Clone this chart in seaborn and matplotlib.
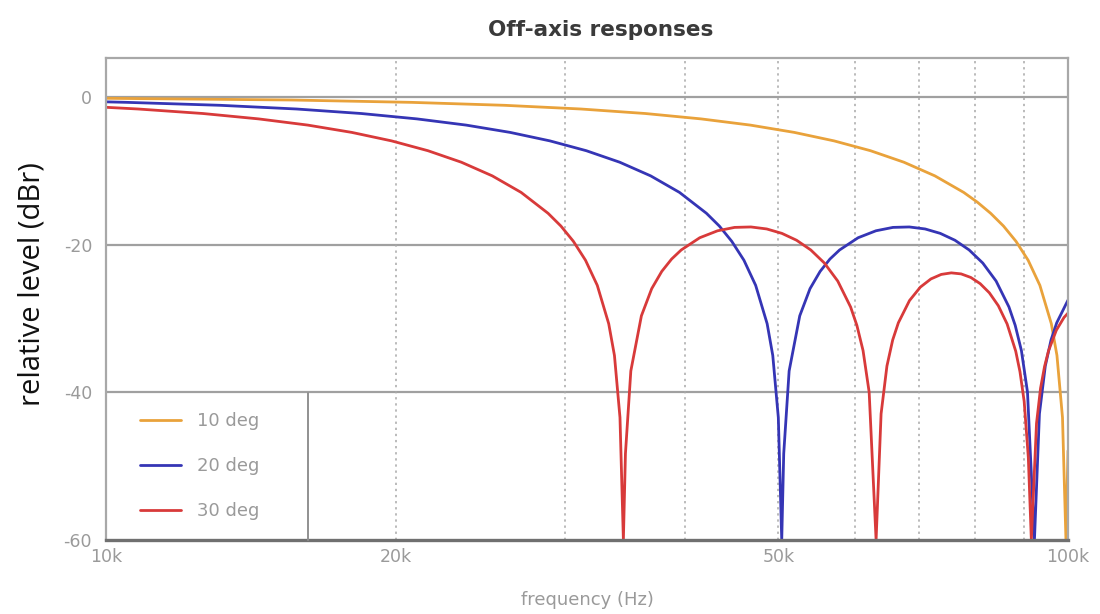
import matplotlib
matplotlib.use("Agg")
import matplotlib.pyplot as plt
import matplotlib.ticker as mticker
import seaborn as sns
import pandas as pd

# ---- data (frequency in kHz, level in dBr) ----
labels = ["10 deg", "20 deg", "30 deg"]
colors = ["#E9A23B", "#3535B5", "#D83A3A"]

freq_10 = [10.00, 15.58, 20.78, 25.97, 31.16, 36.36, 41.55, 46.75, 51.94, 57.13, 62.33,
           67.52, 72.72, 77.91, 80.51, 83.10, 85.70, 88.30, 90.90, 93.49, 96.09, 97.39,
           98.69, 99.51, 100.0]
db_10 = [-0.16, -0.39, -0.71, -1.11, -1.61, -2.22, -2.95, -3.79, -4.78, -5.93, -7.26,
         -8.82, -10.67, -12.91, -14.24, -15.74, -17.47, -19.54, -22.10, -25.50, -30.7, -35.0,
         -43.4, -60.0, -47.9]

freq_20 = [10.00, 10.52, 13.15, 15.78, 18.42, 21.05, 23.68, 26.31, 28.94, 31.57, 34.20,
           36.83, 39.46, 42.09, 43.41, 44.72, 46.04, 47.35, 48.67, 49.33, 49.99, 50.40,
           50.64, 51.30, 52.62, 53.93, 55.25, 56.56, 57.88, 60.51, 63.14, 65.77, 68.40,
           71.03, 73.66, 76.29, 78.92, 81.55, 84.19, 86.82, 88.13, 89.45, 90.76, 92.28,
           93.39, 94.71, 96.02, 97.34, 100.0]
db_20 = [-0.64, -0.71, -1.11, -1.61, -2.22, -2.95, -3.79, -4.78, -5.93, -7.26, -8.82,
         -10.67, -12.91, -15.74, -17.47, -19.54, -22.10, -25.50, -30.7, -35.0, -43.4, -60.0,
         -48.3, -37.1, -29.63, -25.95, -23.61, -21.94, -20.71, -19.05, -18.11, -17.65, -17.59,
         -17.86, -18.46, -19.39, -20.70, -22.48, -24.92, -28.43, -30.92, -34.34, -39.97, -60.0,
         -42.9, -36.43, -32.9, -30.57, -27.5]

freq_30 = [10.00, 10.80, 12.61, 14.41, 16.21, 18.01, 19.81, 21.61, 23.41, 25.21, 27.01,
           28.81, 29.71, 30.61, 31.51, 32.41, 33.31, 33.77, 34.22, 34.50, 34.67, 35.12,
           36.02, 36.92, 37.82, 38.72, 39.62, 41.42, 43.22, 45.02, 46.82, 48.62, 50.42,
           52.22, 54.02, 55.82, 57.63, 59.43, 60.33, 61.23, 62.13, 63.17, 63.93, 64.83,
           65.73, 66.63, 68.43, 70.23, 72.03, 73.83, 75.63, 77.43, 79.24, 81.04, 82.84,
           84.64, 86.44, 88.24, 89.14, 90.04, 90.94, 91.60, 92.74, 93.64, 94.54, 95.44,
           97.24, 99.04, 100.0]
db_30 = [-1.38, -1.61, -2.22, -2.95, -3.79, -4.78, -5.93, -7.26, -8.82, -10.67, -12.91,
         -15.74, -17.47, -19.54, -22.10, -25.50, -30.7, -35.0, -43.4, -60.0, -48.3, -37.1,
         -29.63, -25.95, -23.61, -21.94, -20.71, -19.05, -18.11, -17.65, -17.59, -17.86, -18.46,
         -19.39, -20.70, -22.48, -24.92, -28.43, -30.92, -34.34, -39.97, -60.0, -42.9, -36.43,
         -32.9, -30.57, -27.56, -25.74, -24.63, -24.02, -23.81, -23.95, -24.43, -25.27, -26.51,
         -28.26, -30.73, -34.42, -37.2, -41.21, -48.8, -60.0, -44.2, -39.44, -36.5, -34.38,
         -31.59, -29.86, -29.26]

x_major = [10, 20, 50, 100]
x_major_labels = ["10k", "20k", "50k", "100k"]
x_grid = [20, 30, 40, 50, 60, 70, 80, 90]
y_ticks = [0, -20, -40, -60]

frames = []
for lab, f, d in zip(labels, [freq_10, freq_20, freq_30], [db_10, db_20, db_30]):
    frames.append(pd.DataFrame({"freq": [v * 1000 for v in f], "db": d, "series": lab}))
df = pd.concat(frames, ignore_index=True)

sns.set_theme(style="white")
plt.rcParams["font.family"] = ["DejaVu Sans"]

fig = plt.figure(figsize=(11, 6.14), dpi=100)
ax = fig.add_axes([106 / 1100, 1 - 540 / 614, 962 / 1100, 482 / 614])

sns.lineplot(data=df, x="freq", y="db", hue="series", hue_order=labels,
             palette=colors, estimator=None, sort=False, linewidth=2.0, ax=ax,
             legend=True)

ax.set_xscale("log")
ax.set_xlim(10000, 100000)
ax.set_ylim(-60, 5.3)

ax.xaxis.set_major_locator(mticker.FixedLocator([v * 1000 for v in x_major]))
ax.xaxis.set_major_formatter(mticker.FixedFormatter(x_major_labels))
ax.xaxis.set_minor_locator(mticker.NullLocator())
ax.set_yticks(y_ticks)
ax.set_yticklabels([str(v) for v in y_ticks])
ax.tick_params(axis="both", length=0, labelsize=12.5, labelcolor="#9a9a9a")
ax.tick_params(axis="y", pad=10)
ax.tick_params(axis="x", pad=6)

# grids
for yv in y_ticks[:-1]:
    ax.axhline(yv, color="#a0a0a0", lw=1.6, zorder=0.5)
for xv in x_grid:
    ax.axvline(xv * 1000, color="#a8a8a8", lw=1.1, ls=(0, (1.5, 2.5)), zorder=0.5)

for s in ["top", "left", "right"]:
    ax.spines[s].set_color("#a8a8a8")
    ax.spines[s].set_linewidth(1.6)
ax.spines["bottom"].set_color("#707070")
ax.spines["bottom"].set_linewidth(2.4)

ax.set_title("Off-axis responses", fontsize=15.5, fontweight="bold", color="#3a3a3a",
             pad=16, x=0.5146)
ax.set_xlabel("frequency (Hz)", fontsize=13, color="#9a9a9a")
ax.xaxis.set_label_coords(0.5, -0.105)
ax.set_ylabel("relative level (dBr)", fontsize=21, color="#111111",
              family=["Open Sans", "DejaVu Sans"])
ax.yaxis.set_label_coords(-0.062, 0.53)

# legend
handles, lbls = ax.get_legend_handles_labels()
leg = ax.legend(handles, lbls, loc="center left", bbox_to_anchor=(0.035, 0.1535),
                frameon=False, fontsize=13, handlelength=2.3, handletextpad=0.9,
                labelspacing=1.5, borderpad=0, borderaxespad=0)
for t in leg.get_texts():
    t.set_color("#9a9a9a")
ax.plot([0.21, 0.21], [0, 0.306], transform=ax.transAxes, color="#909090", lw=1.4,
        clip_on=False, zorder=3)

fig.savefig("out.png", dpi=100)
